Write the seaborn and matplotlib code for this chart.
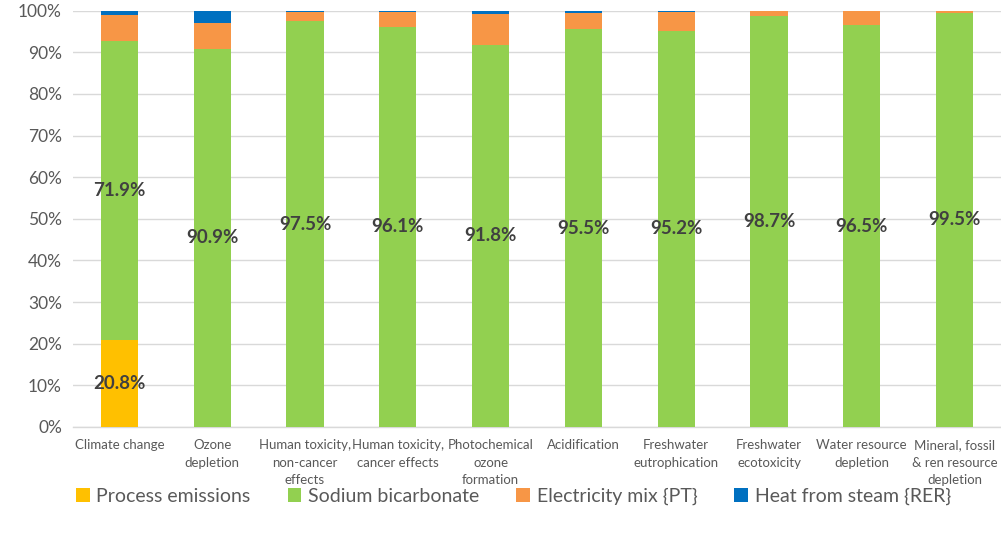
import matplotlib
matplotlib.use("Agg")
import matplotlib.pyplot as plt
import seaborn as sns
import numpy as np
import pandas as pd
from matplotlib.patches import Patch
from matplotlib.ticker import PercentFormatter

categories = [
    "Climate change", "Ozone\ndepletion", "Human toxicity,\nnon-cancer\neffects",
    "Human toxicity,\ncancer effects", "Photochemical\nozone\nformation", "Acidification",
    "Freshwater\neutrophication", "Freshwater\necotoxicity", "Water resource\ndepletion",
    "Mineral, fossil\n& ren resource\ndepletion",
]
process_emissions = [20.8, 0, 0, 0, 0, 0, 0, 0, 0, 0]
sodium_bicarbonate = [71.9, 90.9, 97.5, 96.1, 91.8, 95.5, 95.2, 98.7, 96.5, 99.5]
electricity_mix = [6.3, 6.2, 2.2, 3.6, 7.5, 3.9, 4.4, 1.3, 3.5, 0.5]
heat_from_steam = [1.0, 2.9, 0.3, 0.3, 0.7, 0.6, 0.4, 0.0, 0.0, 0.0]

series_names = ["Process emissions", "Sodium bicarbonate", "Electricity mix {PT}", "Heat from steam {RER}"]
series_values = [process_emissions, sodium_bicarbonate, electricity_mix, heat_from_steam]
colors = ["#FFC000", "#92D050", "#F79646", "#0070C0"]

plt.rcParams["font.family"] = ["Lato", "DejaVu Sans"]

fig = plt.figure(figsize=(10.01, 5.35), dpi=100)
ax = fig.add_axes([0.073, 0.202, 0.927, 0.778])

vals = np.array(series_values)
cum = np.cumsum(vals, axis=0)

# stacked bars: draw cumulative totals from the top series down
for i in range(len(series_names) - 1, -1, -1):
    df = pd.DataFrame({"cat": categories, "top": cum[i]})
    sns.barplot(data=df, x="cat", y="top", color=colors[i], width=0.4,
                saturation=1, ax=ax, edgecolor="none", linewidth=0, zorder=3)

# value labels for the two main contributors
for j in range(len(categories)):
    for i in (0, 1):
        v = vals[i, j]
        if v > 5:
            bottom = cum[i, j] - v
            ax.text(j, bottom + v / 2, f"{v:.1f}%", ha="center", va="center",
                    fontsize=13.5, fontweight="bold", color="#404040", zorder=5)

ax.set_ylim(0, 100)
ax.set_xlim(-0.5, len(categories) - 0.5)
ax.set_yticks(np.arange(0, 101, 10))
ax.yaxis.set_major_formatter(PercentFormatter(decimals=0))
ax.grid(axis="y", color="#D9D9D9", linewidth=1, zorder=0)
ax.set_axisbelow(True)
for s in ["top", "right", "left"]:
    ax.spines[s].set_visible(False)
ax.spines["bottom"].set_color("#D9D9D9")
ax.spines["bottom"].set_linewidth(1)
ax.tick_params(axis="both", length=0)
ax.tick_params(axis="y", labelsize=12.5, labelcolor="#595959", pad=8)
ax.tick_params(axis="x", labelsize=9.5, labelcolor="#595959", pad=9)
for lbl in ax.get_xticklabels():
    lbl.set_linespacing(1.55)
ax.set_xlabel("")
ax.set_ylabel("")

handles = [Patch(facecolor=c, edgecolor="none") for c in colors]
fig.legend(handles, series_names, loc="center", bbox_to_anchor=(0.513, 0.072), ncol=4,
           frameon=False, fontsize=14, handlelength=0.7, handleheight=0.7,
           handletextpad=0.35, columnspacing=1.9, labelcolor="#595959")

fig.savefig("out.png", dpi=100)
